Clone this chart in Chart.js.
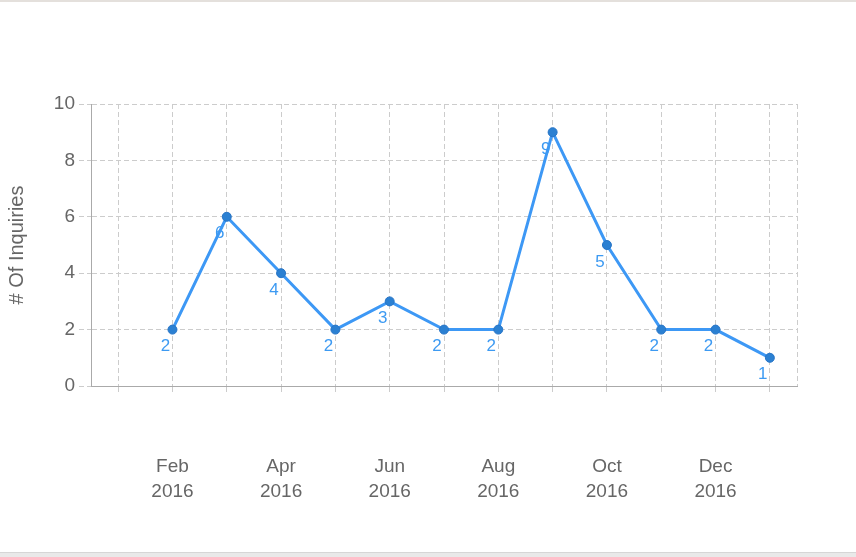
<!DOCTYPE html>
<html>
<head>
<meta charset="utf-8">
<script src="https://cdn.jsdelivr.net/npm/chart.js@4/dist/chart.umd.min.js"></script>
<style>
  html, body { margin: 0; padding: 0; background: #fff; }
  #wrap { position: relative; width: 856px; height: 557px; overflow: hidden; }
  #topline { position: absolute; left: 0; top: 0; width: 856px; height: 2px; background: #e4e0dc; }
  #bottomband { position: absolute; left: 0; top: 552px; width: 856px; height: 5px; background: #e9e9e9; border-top: 1px solid #d6d6d6; }
  canvas { position: absolute; left: 0; top: 0; }
</style>
</head>
<body>
<div id="wrap">
  <canvas id="c" width="856" height="557"></canvas>
  <div id="topline"></div>
  <div id="bottomband"></div>
</div>
<script>
// monthly inquiries, Jan 2016 slot has no value
const months = ['Jan', 'Feb', 'Mar', 'Apr', 'May', 'Jun', 'Jul', 'Aug', 'Sep', 'Oct', 'Nov', 'Dec', 'Jan'];
const years = ['2016', '2016', '2016', '2016', '2016', '2016', '2016', '2016', '2016', '2016', '2016', '2016', '2017'];
const inquiries = [null, 2, 6, 4, 2, 3, 2, 2, 9, 5, 2, 2, 1];
const yTicks = [0, 2, 4, 6, 8, 10];

const labels = months.map((m, i) => m + ' ' + years[i]);

Chart.defaults.font.family = '"Liberation Sans", Arial, sans-serif';
Chart.defaults.color = '#666';

// draws the value under each point, a bit to the left
const valueLabels = {
    id: 'valueLabels',
    afterDatasetsDraw(chart) {
        const ctx = chart.ctx;
        const meta = chart.getDatasetMeta(0);
        ctx.save();
        ctx.font = '17px "Liberation Sans", Arial, sans-serif';
        ctx.fillStyle = '#3d9af2';
        ctx.textAlign = 'center';
        ctx.textBaseline = 'middle';
        meta.data.forEach((pt, i) => {
            const v = inquiries[i];
            if (v === null) return;
            ctx.fillText(String(v), pt.x - 7, pt.y + 17);
        });
        ctx.restore();
    }
};

// dashed right edge of the plot frame
const rightEdge = {
    id: 'rightEdge',
    beforeDatasetsDraw(chart) {
        const {ctx, chartArea} = chart;
        ctx.save();
        ctx.strokeStyle = '#cccccc';
        ctx.lineWidth = 1;
        ctx.setLineDash([5, 3]);
        ctx.beginPath();
        ctx.moveTo(chartArea.right + 0.5, chartArea.top);
        ctx.lineTo(chartArea.right + 0.5, chartArea.bottom);
        ctx.stroke();
        ctx.restore();
    }
};

new Chart(document.getElementById('c').getContext('2d'), {
    type: 'line',
    data: {
        labels,
        datasets: [{
            label: '# Of Inquiries',
            data: inquiries,
            borderColor: '#3d98f5',
            borderWidth: 3,
            pointRadius: 4.5,
            pointBackgroundColor: '#2b80d2',
            pointBorderColor: '#2774c6',
            pointBorderWidth: 1,
            tension: 0,
            fill: false
        }]
    },
    options: {
        responsive: false,
        animation: false,
        layout: { padding: { left: 0, right: 59, top: 104, bottom: 0 } },
        plugins: {
            legend: { display: false },
            tooltip: { enabled: false }
        },
        scales: {
            x: {
                type: 'category',
                offset: true,
                grid: {
                    offset: false,
                    color: '#cccccc',
                    tickLength: 8,
                    tickColor: '#cccccc',
                    tickBorderDash: [5, 3]
                },
                border: { display: true, color: '#aaaaaa', width: 1, dash: [5, 3] },
                ticks: {
                    autoSkip: false,
                    maxRotation: 0,
                    padding: 60,
                    font: { size: 19, lineHeight: 1.32 },
                    callback: (val, i) => (i % 2 === 1 ? [months[i], years[i]] : '')
                },
                afterFit: (s) => { s.height = 171; }
            },
            y: {
                min: 0,
                max: 10,
                afterBuildTicks: (s) => { s.ticks = yTicks.map(v => ({value: v})); },
                grid: {
                    color: '#cccccc',
                    tickLength: 12,
                    tickColor: '#cccccc',
                    tickBorderDash: [5, 3]
                },
                border: { display: true, color: '#aaaaaa', width: 1, dash: [5, 3] },
                ticks: {
                    padding: 4,
                    font: { size: 19 }
                },
                title: {
                    display: true,
                    text: '# Of Inquiries',
                    font: { size: 20 },
                    padding: { top: 5, bottom: 0 }
                },
                afterFit: (s) => { s.width = 91; }
            }
        }
    },
    plugins: [valueLabels, rightEdge]
});
</script>
</body>
</html>
